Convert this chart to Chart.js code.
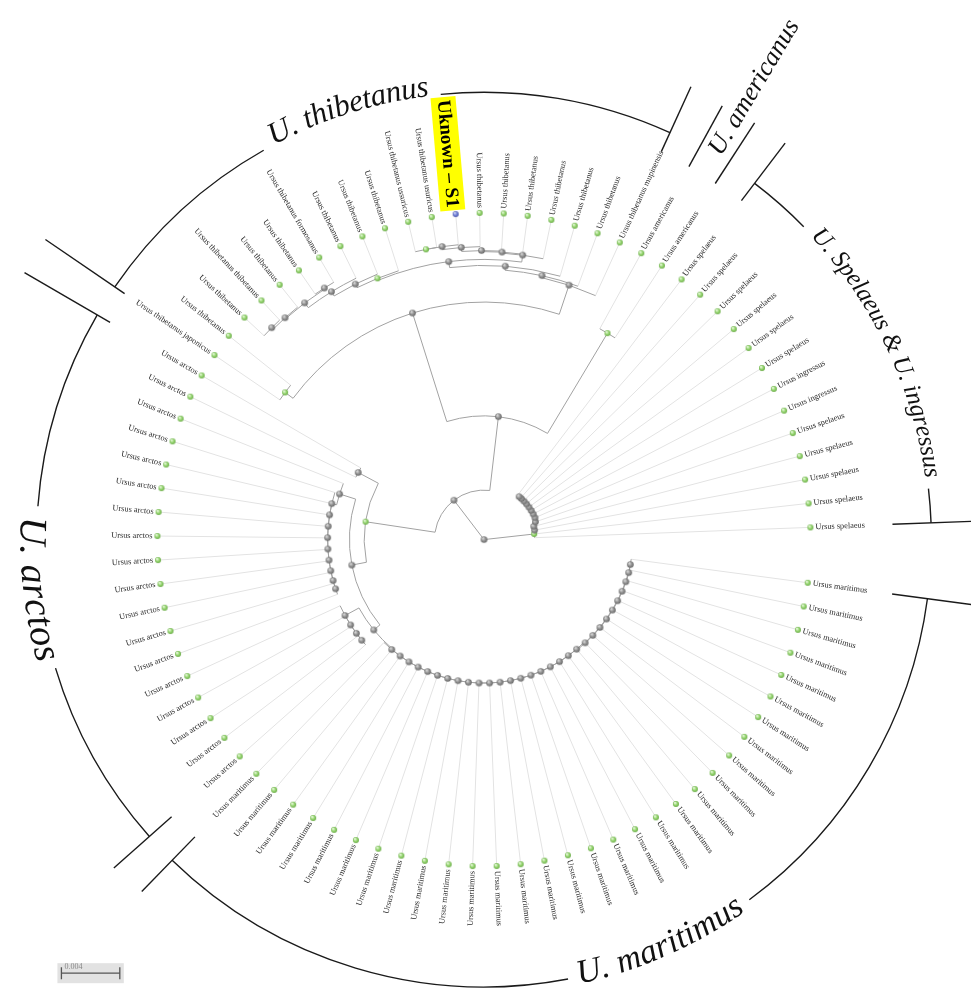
<!DOCTYPE html>
<html>
<head>
<meta charset="utf-8">
<title>Ursus tree</title>
<script src="https://cdn.jsdelivr.net/npm/chart.js@4.4.1/dist/chart.umd.min.js"></script>
<style>
  html, body { margin: 0; padding: 0; background: #fff; }
  canvas { display: block; }
</style>
</head>
<body>
<canvas id="tree" width="971" height="996"></canvas>
<script>
var MAR = 'Ursus maritimus', ARC = 'Ursus arctos', THI = 'Ursus thibetanus';
var SPE = 'Ursus spelaeus', ING = 'Ursus ingressus', AME = 'Ursus americanus';

// leaves in clockwise order, starting just below 3 o'clock
var leafNames = [
  MAR, MAR, MAR, MAR, MAR, MAR, MAR, MAR, MAR, MAR,
  MAR, MAR, MAR, MAR, MAR, MAR, MAR, MAR, MAR, MAR,
  MAR, MAR, MAR, MAR, MAR, MAR, MAR, MAR, MAR, MAR, MAR,
  ARC, ARC, ARC, ARC, ARC, ARC, ARC, ARC, ARC,
  ARC, ARC, ARC, ARC, ARC, ARC, ARC, ARC, ARC,
  'Ursus thibetanus japonicus', THI, THI, 'Ursus thibetanus thibetanus', THI, THI,
  'Ursus thibetanus formosanus', THI, THI, THI, 'Ursus thibetanus ussuricus',
  'Ursus thibetanus usuricus', 'Uknown \u2013 S1', THI, THI, THI, THI, THI, THI,
  'Ursus thibetanus mupinensis',
  AME, AME,
  SPE, SPE, SPE, SPE, SPE, SPE, ING, ING, SPE, SPE, SPE, SPE, SPE
];
var leafParent = [
  'MA30', 'MA30', 'MA29', 'MA28', 'MA27', 'MA26', 'MA25', 'MA24', 'MA23', 'MA22',
  'MA21', 'MA20', 'MA19', 'MA18', 'MA17', 'MA16', 'MA15', 'MA14', 'MA13', 'MA12',
  'MA11', 'MA10', 'MA9', 'MA8', 'MA7', 'MA6', 'MA5', 'MA4', 'MA3', 'MA2', 'MA1',
  'AR4', 'AR4', 'AR3', 'AR2', 'AR1', 'L9', 'L9', 'L8', 'L7',
  'L6', 'L5', 'L4', 'L3', 'L2', 'L1', 'Z3', 'Z1', 'Z1',
  'J', 'J', 'W1', 'W1', 'W2', 'Y', 'Y', 'O', 'N', 'M',
  'K', 'K', 'U', 'T', 'Q', 'P', 'H', 'F', 'E', 'D',
  'Am', 'Am',
  'S12', 'S12', 'S11', 'S10', 'S9', 'S8', 'S7', 'S6', 'S5', 'S4', 'S3', 'S2', 'S1'
];
var unknownLeaf = 61;

// internal nodes: name, parent, distance from the root (drawing units)
var nodeNames = [
  'R', 'A', 'S1', 'C', 'B', 'J', 'D', 'E', 'F', 'G', 'M', 'N', 'O', 'W3', 'W2', 'W1', 'Y',
  'H', 'P', 'Q', 'T', 'U', 'K', 'Am',
  'Z', 'Z1', 'Z2', 'Z3', 'L1', 'L2', 'L3', 'L4', 'L5', 'L6', 'L7', 'L8', 'L9',
  'Z4', 'AR1', 'AR2', 'AR3', 'AR4',
  'MA1', 'MA2', 'MA3', 'MA4', 'MA5', 'MA6', 'MA7', 'MA8', 'MA9', 'MA10',
  'MA11', 'MA12', 'MA13', 'MA14', 'MA15', 'MA16', 'MA17', 'MA18', 'MA19', 'MA20',
  'MA21', 'MA22', 'MA23', 'MA24', 'MA25', 'MA26', 'MA27', 'MA28', 'MA29', 'MA30',
  'S2', 'S3', 'S4', 'S5', 'S6', 'S7', 'S8', 'S9', 'S10', 'S11', 'S12'
];
var nodeParent = [
  null, 'R', 'R', 'A', 'C', 'B', 'B', 'D', 'E', 'F', 'G', 'M', 'N', 'O', 'W3', 'W2', 'W3',
  'G', 'H', 'P', 'Q', 'T', 'U', 'C',
  'A', 'Z', 'Z', 'Z2', 'Z3', 'L1', 'L2', 'L3', 'L4', 'L5', 'L6', 'L7', 'L8',
  'Z2', 'Z4', 'AR1', 'AR2', 'AR3',
  'Z4', 'MA1', 'MA2', 'MA3', 'MA4', 'MA5', 'MA6', 'MA7', 'MA8', 'MA9',
  'MA10', 'MA11', 'MA12', 'MA13', 'MA14', 'MA15', 'MA16', 'MA17', 'MA18', 'MA19',
  'MA20', 'MA21', 'MA22', 'MA23', 'MA24', 'MA25', 'MA26', 'MA27', 'MA28', 'MA29',
  'S1', 'S2', 'S3', 'S4', 'S5', 'S6', 'S7', 'S8', 'S9', 'S10', 'S11'
];
var nodeRadius = [
  0, 50, 51, 125, 240, 250, 271, 273, 277, 283, 285, 289, 294, 300, 301, 303, 301,
  290, 291, 292, 296, 299, 299, 243,
  121, 144, 136, 153, 158, 158, 158, 158, 158, 158, 158, 158, 158,
  144, 160, 160, 160, 160,
  145, 145, 145, 145, 145, 145, 145, 145, 145, 145,
  145, 145, 145, 145, 145, 145, 145, 145, 145, 145,
  146, 146.5, 147, 147.5, 148, 148.5, 149, 149.5, 150, 150,
  52, 52, 55, 56, 56, 56, 56, 56, 56, 56, 56
];
var greenNodes = ['S1', 'J', 'M', 'K', 'Am', 'Z'];

var cladeNames = ['U. maritimus', 'U. arctos', 'U. thibetanus', 'U. americanus', 'U. Spelaeus & U. ingressus'];
var cladeFirst = [0, 31, 49, 69, 71];
var cladeLast = [30, 48, 68, 70, 83];

var scaleBarLength = 59;
var scaleBarLabel = '0.004';

// ---- layout ----
var D = Math.PI / 180;
var firstLeafAngle = 7.6, leafStep = 4.22, tipRadius = 330, bracketRadius = 452;

var leafAngle = leafNames.map(function (n, i) { return firstLeafAngle + i * leafStep; });
var radiusOf = {}, childLeaves = {}, childNodes = {}, nodeAngle = {}, nodeSpan = {};
nodeNames.forEach(function (n, j) { radiusOf[n] = nodeRadius[j]; childLeaves[n] = []; childNodes[n] = []; });
leafParent.forEach(function (p, i) { childLeaves[p].push(i); });
nodeParent.forEach(function (p, j) { if (p) childNodes[p].push(nodeNames[j]); });

function angleOf(n) {
  if (nodeAngle[n] !== undefined) return nodeAngle[n];
  var a = childLeaves[n].map(function (i) { return leafAngle[i]; })
    .concat(childNodes[n].map(angleOf));
  var lo = Math.min.apply(null, a), hi = Math.max.apply(null, a);
  nodeSpan[n] = [lo, hi];
  nodeAngle[n] = (lo + hi) / 2;
  return nodeAngle[n];
}
nodeNames.forEach(angleOf);

function pt(r, deg) {
  return { x: r * Math.cos(deg * D), y: -r * Math.sin(deg * D) };
}

function ball(r, hi, mid, lo) {
  var c = document.createElement('canvas');
  var s = Math.ceil(r * 2 + 2);
  c.width = c.height = s;
  var g = c.getContext('2d');
  var grd = g.createRadialGradient(s / 2 - r * 0.35, s / 2 - r * 0.4, r * 0.15, s / 2, s / 2, r);
  grd.addColorStop(0, hi);
  grd.addColorStop(0.55, mid);
  grd.addColorStop(1, lo);
  g.fillStyle = grd;
  g.beginPath();
  g.arc(s / 2, s / 2, r, 0, Math.PI * 2);
  g.fill();
  return c;
}
var greyBall = ball(3.3, '#d6d6d6', '#8e8e8e', '#6a6a6a');
var greenBall = ball(3, '#e4f7d6', '#92d46c', '#6cab4a');
var blueBall = ball(3, '#c9d0f5', '#6f7fd6', '#4a56a8');

var greyPts = [], greenNodePts = [], leafPts = [], unknownPts = [];
nodeNames.forEach(function (n, j) {
  var p = pt(nodeRadius[j], nodeAngle[n]);
  if (greenNodes.indexOf(n) >= 0) greenNodePts.push(p); else greyPts.push(p);
});
leafNames.forEach(function (n, i) {
  var p = pt(tipRadius, leafAngle[i]);
  if (i === unknownLeaf) unknownPts.push(p); else leafPts.push(p);
});

var cladeStyle = [
  { size: 34, r: 450, shift: -4.5, tick: [[416, 520], [419, 496]] },
  { size: 39, r: 458, shift: -0.5, tick: [[422, 500], [437, 537]] },
  { size: 31, r: 460, shift: -2, tick: [[440, 537], [431, 503]] },
  { size: 26, radial: true, tick: [[430, 500], [429, 502]] },
  { size: 25, r: 457, shift: 2, tick: [[430, 503], [413, 520]] }
];

function curvedText(ctx, text, cx, cy, r, deg, top) {
  var dir = top ? 1 : -1;
  var w = ctx.measureText(text).width;
  var start = deg * D - dir * w / (2 * r);
  var x = 0;
  ctx.textAlign = 'center';
  ctx.textBaseline = 'middle';
  Array.from(text).forEach(function (ch) {
    var cw = ctx.measureText(ch).width;
    var a = start + dir * (x + cw / 2) / r;
    ctx.save();
    ctx.translate(cx + r * Math.cos(a), cy + r * Math.sin(a));
    ctx.rotate(a + dir * Math.PI / 2);
    ctx.fillText(ch, 0, 0);
    ctx.restore();
    x += cw;
  });
  return w;
}

var treeDraw = {
  id: 'treeDraw',
  beforeDatasetsDraw: function (chart) {
    var ctx = chart.ctx, xs = chart.scales.x, ys = chart.scales.y;
    var cx = xs.getPixelForValue(0), cy = ys.getPixelForValue(0);
    var k = (xs.getPixelForValue(100) - cx) / 100;
    function line(r0, r1, deg) {
      var a = pt(r0, deg), b = pt(r1, deg);
      ctx.beginPath();
      ctx.moveTo(xs.getPixelForValue(a.x), ys.getPixelForValue(a.y));
      ctx.lineTo(xs.getPixelForValue(b.x), ys.getPixelForValue(b.y));
      ctx.stroke();
    }
    ctx.save();
    ctx.lineWidth = 1;
    ctx.strokeStyle = '#e3e3e3';
    leafNames.forEach(function (n, i) { line(radiusOf[leafParent[i]], tipRadius, leafAngle[i]); });
    ctx.strokeStyle = '#a2a2a2';
    nodeNames.forEach(function (n, j) {
      var sp = nodeSpan[n];
      if (nodeRadius[j] > 0) {
        ctx.beginPath();
        ctx.arc(cx, cy, nodeRadius[j] * k, sp[0] * D, sp[1] * D);
        ctx.stroke();
      }
      if (nodeParent[j]) line(radiusOf[nodeParent[j]], nodeRadius[j], nodeAngle[n]);
    });
    ctx.restore();
  },
  afterDatasetsDraw: function (chart) {
    var ctx = chart.ctx, xs = chart.scales.x, ys = chart.scales.y;
    var cx = xs.getPixelForValue(0), cy = ys.getPixelForValue(0);
    var k = (xs.getPixelForValue(100) - cx) / 100;
    ctx.save();

    // leaf labels
    leafNames.forEach(function (name, i) {
      var t = leafAngle[i];
      var flip = t > 90 && t < 270;
      ctx.save();
      ctx.translate(cx + tipRadius * k * Math.cos(t * D), cy + tipRadius * k * Math.sin(t * D));
      ctx.rotate((flip ? t - 180 : t) * D);
      ctx.textBaseline = 'middle';
      ctx.textAlign = flip ? 'right' : 'left';
      if (i === unknownLeaf) {
        ctx.font = 'bold 19px "Liberation Serif"';
        var w = ctx.measureText(name).width;
        ctx.fillStyle = '#ffff00';
        ctx.fillRect(flip ? -w - 10 : 4, -10, w + 6, 25);
        ctx.fillStyle = '#000';
        ctx.fillText(name, flip ? -7 : 7, 3);
      } else {
        ctx.font = '8.3px "Liberation Serif"';
        ctx.fillStyle = '#2a2a2a';
        ctx.fillText(name, flip ? -5 : 5, 0);
      }
      ctx.restore();
    });

    // clade brackets
    ctx.strokeStyle = '#1a1a1a';
    ctx.fillStyle = '#111';
    ctx.lineWidth = 1.4;
    cladeNames.forEach(function (name, c) {
      var st = cladeStyle[c];
      var a0 = leafAngle[cladeFirst[c]], a1 = leafAngle[cladeLast[c]];
      var rb = bracketRadius * k;
      [[a0, st.tick[0]], [a1, st.tick[1]]].forEach(function (tk) {
        ctx.beginPath();
        ctx.moveTo(cx + tk[1][0] * k * Math.cos(tk[0] * D), cy + tk[1][0] * k * Math.sin(tk[0] * D));
        ctx.lineTo(cx + tk[1][1] * k * Math.cos(tk[0] * D), cy + tk[1][1] * k * Math.sin(tk[0] * D));
        ctx.stroke();
      });
      ctx.font = 'italic ' + st.size + 'px "Liberation Serif"';
      if (st.radial) {
        var m = (a0 + a1) / 2;
        ctx.save();
        ctx.translate(cx + (bracketRadius + 3) * k * Math.cos(m * D), cy + (bracketRadius + 3) * k * Math.sin(m * D));
        ctx.rotate(m * D);
        ctx.textAlign = 'left';
        ctx.textBaseline = 'middle';
        ctx.fillText(name, 0, 0);
        ctx.restore();
        return;
      }
      var mid = (a0 + a1) / 2 + st.shift;
      var top = mid > 180;
      var w = curvedText(ctx, name, cx, cy, st.r * k, mid, top);
      var half = (w / 2 + 10) / rb / D;
      ctx.beginPath();
      ctx.arc(cx, cy, rb, a0 * D, (mid - half) * D);
      ctx.stroke();
      ctx.beginPath();
      ctx.arc(cx, cy, rb, (mid + half) * D, a1 * D);
      ctx.stroke();
    });

    // scale bar
    var bx = xs.getPixelForValue(-427), by = ys.getPixelForValue(-438);
    var bw = scaleBarLength * k;
    ctx.fillStyle = '#e2e2e2';
    ctx.fillRect(bx - 4, by - 10, bw + 8, 20);
    ctx.strokeStyle = '#555';
    ctx.lineWidth = 1.3;
    ctx.beginPath();
    ctx.moveTo(bx, by); ctx.lineTo(bx + bw, by);
    ctx.moveTo(bx, by - 6); ctx.lineTo(bx, by + 6);
    ctx.moveTo(bx + bw, by - 6); ctx.lineTo(bx + bw, by + 6);
    ctx.stroke();
    ctx.fillStyle = '#888';
    ctx.font = '8px "Liberation Serif"';
    ctx.textAlign = 'left';
    ctx.textBaseline = 'middle';
    ctx.fillText(scaleBarLabel, bx + 3, by - 6);
    ctx.restore();
  }
};

new Chart(document.getElementById('tree'), {
  type: 'scatter',
  data: {
    datasets: [
      { data: greyPts, pointStyle: greyBall },
      { data: greenNodePts, pointStyle: greenBall },
      { data: leafPts, pointStyle: greenBall },
      { data: unknownPts, pointStyle: blueBall }
    ]
  },
  options: {
    responsive: false,
    animation: false,
    devicePixelRatio: 1,
    events: [],
    layout: { padding: 0 },
    plugins: { legend: { display: false }, tooltip: { enabled: false } },
    scales: {
      x: { type: 'linear', min: -484, max: 487, display: false },
      y: { type: 'linear', min: -456, max: 540, display: false }
    }
  },
  plugins: [treeDraw]
});
</script>
</body>
</html>
